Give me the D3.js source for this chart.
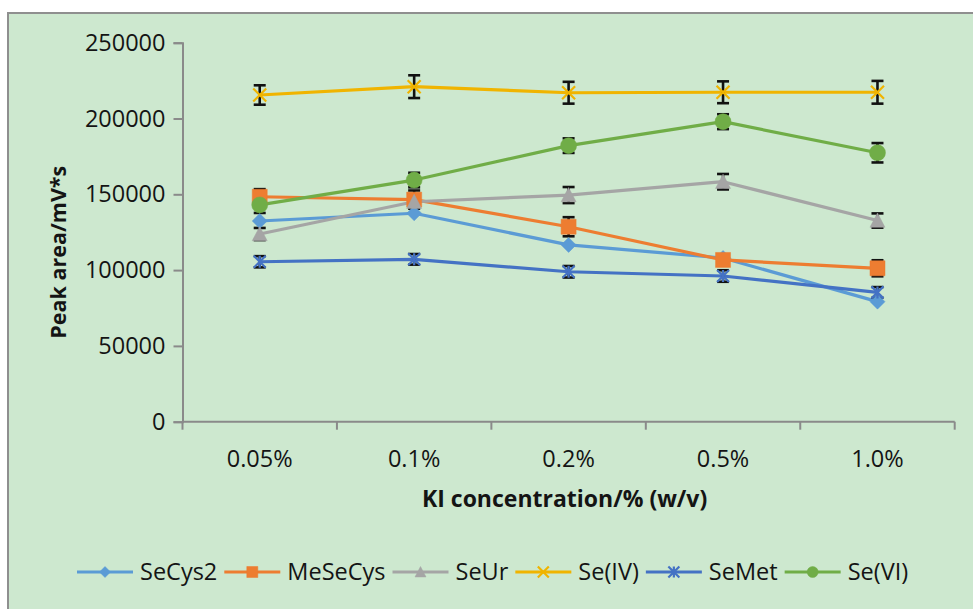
<!DOCTYPE html>
<html>
<head>
<meta charset="utf-8">
<script src="https://cdn.jsdelivr.net/npm/d3@7/dist/d3.min.js"></script>
<style>
  html, body { margin: 0; padding: 0; background: #ffffff; }
  svg { display: block; }
  text { font-family: "Open Sans", "Noto Sans", sans-serif; fill: #141414; }
</style>
</head>
<body>
<svg id="chart" width="973" height="609"></svg>
<script>
// KI concentration levels (x categories)
const categories = ["0.05%", "0.1%", "0.2%", "0.5%", "1.0%"];

// Peak area per species (mV*s) and standard deviations
const seCys2      = [132400, 137500, 116600, 108000, 79200];
const seCys2Err   = [0, 0, 0, 0, 0];
const meSeCys     = [148400, 146500, 128600, 106700, 101200];
const meSeCysErr  = [5000, 6000, 6300, 3500, 5300];
const seUr        = [123800, 145100, 149500, 158300, 132700];
const seUrErr     = [4000, 3500, 5300, 5100, 4700];
const seIV        = [215500, 221000, 217000, 217300, 217300];
const seIVErr     = [6400, 7500, 7200, 7200, 7500];
const seMet       = [105500, 107100, 98900, 96100, 85300];
const seMetErr    = [3700, 3500, 3800, 3800, 3500];
const seVI        = [143000, 159400, 182100, 197900, 177400];
const seVIErr     = [5300, 4800, 4800, 4900, 6400];

const yTicks = [0, 50000, 100000, 150000, 200000, 250000];

const seriesNames  = ["SeCys2", "MeSeCys", "SeUr", "Se(IV)", "SeMet", "Se(VI)"];
const seriesColors = ["#5b9bd5", "#ed7d31", "#a5a5a5", "#f0b400", "#4472c4", "#70ad47"];
const seriesShapes = ["diamond", "square", "triangle", "x", "asterisk", "circle"];

const series = [
  { values: seCys2, err: seCys2Err },
  { values: meSeCys, err: meSeCysErr },
  { values: seUr, err: seUrErr },
  { values: seIV, err: seIVErr },
  { values: seMet, err: seMetErr },
  { values: seVI, err: seVIErr }
].map((s, i) => ({ ...s, name: seriesNames[i], color: seriesColors[i], shape: seriesShapes[i] }));

const svg = d3.select("#chart");

// chart frame
svg.append("rect")
  .attr("x", 8).attr("y", 13)
  .attr("width", 990).attr("height", 620)
  .attr("fill", "#cde8cf")
  .attr("stroke", "#8f8f8f")
  .attr("stroke-width", 2);

const plot = { left: 182.5, right: 954.7, top: 42.7, bottom: 421.7 };

const x = d3.scaleBand().domain(categories).range([plot.left, plot.right]).paddingInner(0).paddingOuter(0);
const y = d3.scaleLinear().domain([0, 250000]).range([plot.bottom, plot.top]);
const cx = d => x(d) + x.bandwidth() / 2;

const labelSize = 23.5;

// y axis
const yAxis = d3.axisLeft(y).tickValues(yTicks).tickSize(9).tickPadding(8).tickFormat(d3.format("d"));
const gy = svg.append("g").attr("transform", `translate(${plot.left},0)`).call(yAxis);
gy.select(".domain").attr("stroke", "#8a8a8a").attr("stroke-width", 2);
gy.selectAll(".tick line").attr("stroke", "#8a8a8a").attr("stroke-width", 2);
gy.selectAll(".tick text").attr("font-size", labelSize).attr("fill", "#141414")
  .style("font-family", "'Open Sans', sans-serif");

// x axis with ticks at category boundaries
const gx = svg.append("g").attr("transform", `translate(0,${plot.bottom})`);
gx.append("line")
  .attr("x1", plot.left).attr("x2", plot.right)
  .attr("stroke", "#8a8a8a").attr("stroke-width", 2);
const bounds = categories.map(c => x(c)).concat([plot.right]);
gx.selectAll("line.tk").data(bounds).join("line").attr("class", "tk")
  .attr("x1", d => d).attr("x2", d => d).attr("y1", 0).attr("y2", 8)
  .attr("stroke", "#8a8a8a").attr("stroke-width", 2);
gx.selectAll("text.lbl").data(categories).join("text").attr("class", "lbl")
  .attr("x", d => cx(d)).attr("y", 45)
  .attr("text-anchor", "middle").attr("font-size", labelSize)
  .text(d => d);

// axis titles
svg.append("text")
  .attr("transform", `translate(66,${(plot.top + plot.bottom) / 2 + 20}) rotate(-90)`)
  .attr("text-anchor", "middle").attr("font-size", 21.5).attr("font-weight", "bold")
  .text("Peak area/mV*s");
svg.append("text")
  .attr("x", (plot.left + plot.right) / 2 - 4).attr("y", 507)
  .attr("text-anchor", "middle").attr("font-size", 23).attr("font-weight", "bold")
  .text("KI concentration/% (w/v)");

// marker path generator
function markerPath(shape, s) {
  const h = s / 2;
  switch (shape) {
    case "diamond": return `M0,${-h}L${h},0L0,${h}L${-h},0Z`;
    case "square": return `M${-h},${-h}H${h}V${h}H${-h}Z`;
    case "triangle": return `M0,${-h}L${h},${h * 0.9}H${-h}Z`;
    case "circle": return d3.symbol(d3.symbolCircle, Math.PI * h * h)();
    case "x": return `M${-h},${-h}L${h},${h}M${-h},${h}L${h},${-h}`;
    case "asterisk": return `M${-h},${-h}L${h},${h}M${-h},${h}L${h},${-h}M0,${-h}V${h}`;
  }
}
function drawMarker(g, shape, color, size) {
  const stroked = shape === "x" || shape === "asterisk";
  g.append("path")
    .attr("d", markerPath(shape, size))
    .attr("fill", stroked ? "none" : color)
    .attr("stroke", color)
    .attr("stroke-width", stroked ? 2.2 : 0.5);
}

const line = d3.line().x((d, i) => cx(categories[i])).y(d => y(d));

// series lines
svg.append("g").selectAll("path").data(series).join("path")
  .attr("d", s => line(s.values))
  .attr("fill", "none")
  .attr("stroke", s => s.color)
  .attr("stroke-width", 3.2)
  .attr("stroke-linejoin", "round");

// error bars
const eg = svg.append("g");
series.forEach(s => {
  s.values.forEach((v, i) => {
    const e = s.err[i];
    if (!e) return;
    const px = cx(categories[i]);
    const g = eg.append("g").attr("stroke", "#111").attr("stroke-width", 2.6);
    g.append("line").attr("x1", px).attr("x2", px).attr("y1", y(v + e)).attr("y2", y(v - e));
    g.append("line").attr("x1", px - 6).attr("x2", px + 6).attr("y1", y(v + e)).attr("y2", y(v + e));
    g.append("line").attr("x1", px - 6).attr("x2", px + 6).attr("y1", y(v - e)).attr("y2", y(v - e));
  });
});

// markers
const sizes = { diamond: 15, square: 15, triangle: 15, circle: 16, x: 13, asterisk: 12 };
series.forEach(s => {
  s.values.forEach((v, i) => {
    const g = svg.append("g").attr("transform", `translate(${cx(categories[i])},${y(v)})`);
    drawMarker(g, s.shape, s.color, sizes[s.shape]);
  });
});

// legend
const legend = svg.append("g").attr("transform", "translate(77,572)");
let lx = 0;
series.forEach(s => {
  const item = legend.append("g").attr("transform", `translate(${lx},0)`);
  item.append("line").attr("x1", 0).attr("x2", 56).attr("y1", 0).attr("y2", 0)
    .attr("stroke", s.color).attr("stroke-width", 3.2);
  const mg = item.append("g").attr("transform", "translate(28,0)");
  drawMarker(mg, s.shape, s.color, 11);
  const t = item.append("text").attr("x", 63).attr("y", 0).attr("dy", "0.35em")
    .attr("font-size", labelSize).text(s.name);
  lx += 63 + t.node().getComputedTextLength() + 7;
});
</script>
</body>
</html>
